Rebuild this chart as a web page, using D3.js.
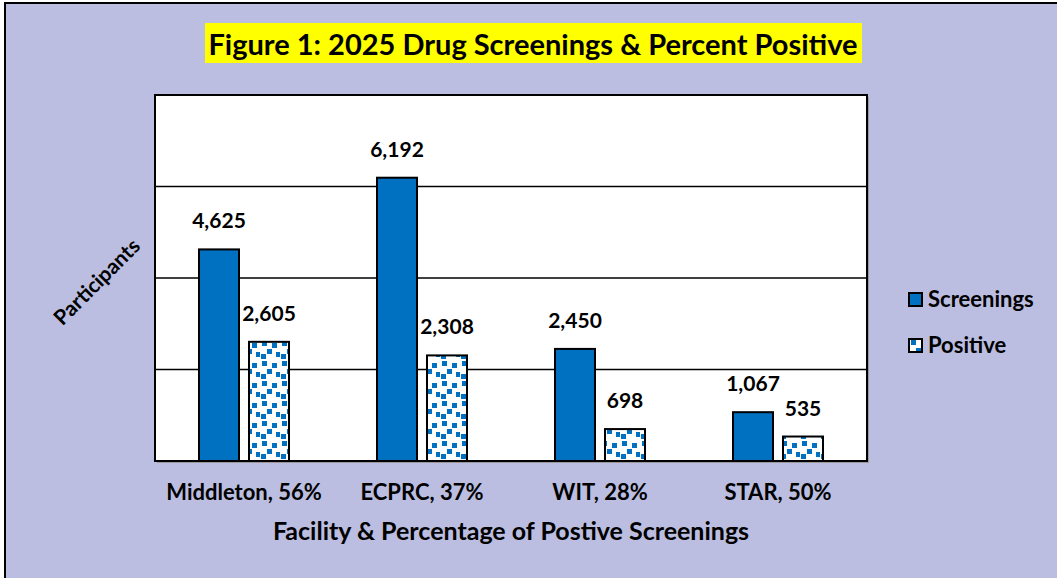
<!DOCTYPE html>
<html>
<head>
<meta charset="utf-8">
<script src="https://cdn.jsdelivr.net/npm/d3@7"></script>
<style>
  body { margin: 0; background: #fff; }
  text { font-family: Lato, "Open Sans", sans-serif; font-weight: bold; fill: #000; }
</style>
</head>
<body>
<svg id="chart" width="1057" height="578"></svg>
<script>
var facilities = ["Middleton, 56%", "ECPRC, 37%", "WIT, 28%", "STAR, 50%"]
var seriesNames = ["Screenings", "Positive"]
var screenings = [4625, 6192, 2450, 1067]
var positive = [2605, 2308, 698, 535]
var yTicks = [2000, 4000, 6000]

var svg = d3.select("#chart")
var W = 1057, H = 578
var plot = { left: 155, top: 95, right: 867, bottom: 461 }

// pattern for "Positive" bars (scattered blue squares on white)
var defs = svg.append("defs")
var pat = defs.append("pattern")
  .attr("id", "dots")
  .attr("patternUnits", "userSpaceOnUse")
  .attr("width", 20).attr("height", 20)
pat.append("rect").attr("width", 20).attr("height", 20).attr("fill", "#fff")
var sq = [[2, 1], [12, 3], [7, 9], [16, 12], [1, 14]]
sq.forEach(function (p) {
  pat.append("rect").attr("x", p[0]).attr("y", p[1])
    .attr("width", 5).attr("height", 5).attr("fill", "#0070C0")
})

// background frame
svg.append("rect").attr("x", 0).attr("y", 0).attr("width", W).attr("height", H).attr("fill", "#fff")
svg.append("rect")
  .attr("x", 5).attr("y", 3).attr("width", W + 10).attr("height", H + 10)
  .attr("fill", "#BBBEE0").attr("stroke", "#000").attr("stroke-width", 2)

// title
svg.append("rect").attr("x", 205).attr("y", 23).attr("width", 657).attr("height", 40).attr("fill", "#FFFF00")
svg.append("text").attr("x", 533).attr("y", 55).attr("text-anchor", "middle")
  .style("font-size", "29px").text("Figure 1: 2025 Drug Screenings & Percent Positive")

var x = d3.scaleBand().domain(facilities).range([plot.left, plot.right])
var xs = d3.scaleBand().domain(seriesNames).range([0, 90]).paddingInner(0.2)
var y = d3.scaleLinear().domain([0, 8000]).range([plot.bottom, plot.top])

// plot area
svg.append("rect").attr("x", plot.left + 2).attr("y", plot.top + 2)
  .attr("width", plot.right - plot.left).attr("height", plot.bottom - plot.top)
  .attr("fill", "#9a9a9a")
svg.append("rect").attr("x", plot.left).attr("y", plot.top)
  .attr("width", plot.right - plot.left).attr("height", plot.bottom - plot.top)
  .attr("fill", "#fff")

svg.selectAll(".grid").data(yTicks).enter().append("line")
  .attr("class", "grid")
  .attr("x1", plot.left).attr("x2", plot.right)
  .attr("y1", function (d) { return y(d) }).attr("y2", function (d) { return y(d) })
  .attr("stroke", "#000").attr("stroke-width", 1.5)

var rows = facilities.map(function (f, i) {
  return [{ f: f, s: "Screenings", v: screenings[i] }, { f: f, s: "Positive", v: positive[i] }]
})
var bars = [].concat.apply([], rows)

function barX(d) {
  return x(d.f) + x.bandwidth() / 2 - 45 + xs(d.s)
}

svg.selectAll(".bar").data(bars).enter().append("rect")
  .attr("class", "bar")
  .attr("x", barX)
  .attr("y", function (d) { return y(d.v) })
  .attr("width", xs.bandwidth())
  .attr("height", function (d) { return y(0) - y(d.v) })
  .attr("fill", function (d) { return d.s == "Screenings" ? "#0070C0" : "url(#dots)" })
  .attr("stroke", "#000").attr("stroke-width", 2)

svg.selectAll(".lbl").data(bars).enter().append("text")
  .attr("class", "lbl")
  .attr("x", function (d) { return barX(d) + xs.bandwidth() / 2 })
  .attr("y", function (d) { return y(d.v) - 21 })
  .attr("text-anchor", "middle")
  .style("font-size", "21px")
  .text(function (d) { return d3.format(",")(d.v) })

// plot border
svg.append("rect").attr("x", plot.left).attr("y", plot.top)
  .attr("width", plot.right - plot.left).attr("height", plot.bottom - plot.top)
  .attr("fill", "none").attr("stroke", "#000").attr("stroke-width", 2)

// x axis labels
svg.selectAll(".xl").data(facilities).enter().append("text")
  .attr("class", "xl")
  .attr("x", function (d) { return x(d) + x.bandwidth() / 2 })
  .attr("y", 500)
  .attr("text-anchor", "middle")
  .style("font-size", "22px")
  .text(function (d) { return d })

svg.append("text").attr("x", plot.left + (plot.right - plot.left) / 2).attr("y", 540)
  .attr("text-anchor", "middle").style("font-size", "25px")
  .text("Facility & Percentage of Postive Screenings")

svg.append("text").attr("transform", "translate(102,287) rotate(-45)")
  .attr("text-anchor", "middle").style("font-size", "21px")
  .text("Participants")

// legend
var leg = svg.selectAll(".leg").data(seriesNames).enter().append("g")
  .attr("class", "leg")
  .attr("transform", function (d, i) { return "translate(909," + (293 + i * 46) + ")" })
leg.append("rect").attr("width", 13).attr("height", 13)
  .attr("fill", function (d) { return d == "Screenings" ? "#0070C0" : "url(#dots)" })
  .attr("stroke", "#000").attr("stroke-width", 2)
leg.append("text").attr("x", 19).attr("y", 14).style("font-size", "22px")
  .text(function (d) { return d })
</script>
</body>
</html>
